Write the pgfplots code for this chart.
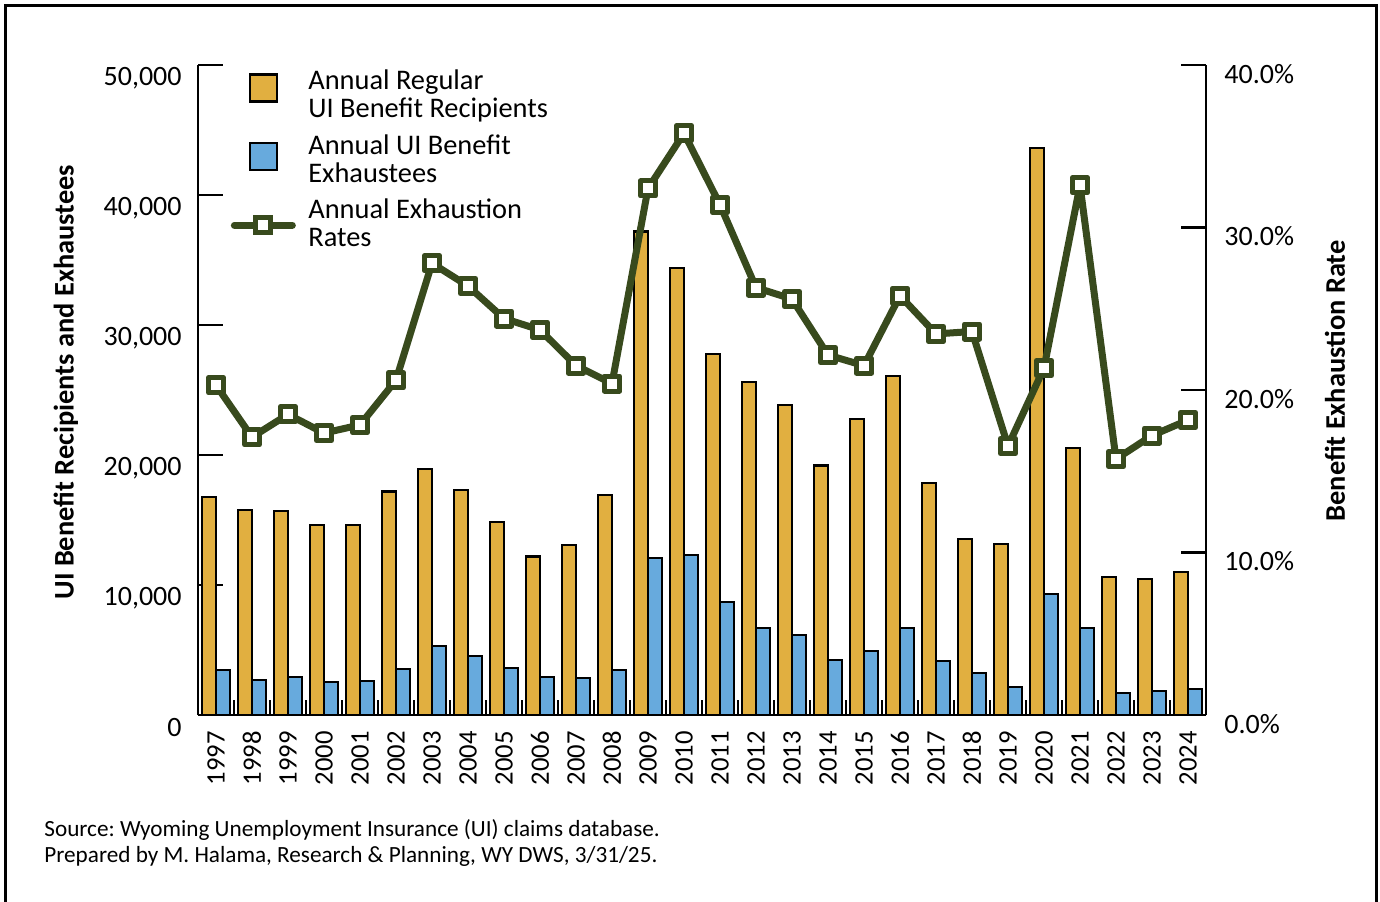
\documentclass[border=0pt]{standalone}
\usepackage{pgfplots}
\usepackage{pgfplotstable}
\pgfplotsset{compat=1.18}
\usepackage{fontspec}
\setmainfont{Carlito}
\frenchspacing
\definecolor{gold}{HTML}{E1AF40}
\definecolor{sky}{HTML}{67AADD}
\definecolor{olive}{HTML}{384A1D}

\pgfplotstableread{
i year rec exh rate
0 1997 16800 3450 20.3
1 1998 15800 2700 17.1
2 1999 15700 2920 18.5
3 2000 14600 2540 17.35
4 2001 14600 2620 17.85
5 2002 17200 3540 20.6
6 2003 18900 5300 27.8
7 2004 17300 4540 26.4
8 2005 14850 3620 24.4
9 2006 12200 2920 23.7
10 2007 13100 2850 21.5
11 2008 16900 3460 20.4
12 2009 37200 12100 32.4
13 2010 34400 12300 35.8
14 2011 27800 8700 31.4
15 2012 25600 6700 26.3
16 2013 23850 6150 25.6
17 2014 19200 4230 22.15
18 2015 22800 4920 21.5
19 2016 26100 6700 25.8
20 2017 17850 4150 23.45
21 2018 13550 3230 23.6
22 2019 13150 2150 16.55
23 2020 43600 9300 21.35
24 2021 20550 6700 32.6
25 2022 10600 1700 15.75
26 2023 10450 1850 17.2
27 2024 11000 2000 18.15
}\data

% separator tick marks between year groups (height in % units of the right axis)
\pgfplotstableread{
x h
0.5 0.92
1.5 0.92
2.5 0.92
3.5 0.92
4.5 0.92
5.5 0.92
6.5 0.92
7.5 0.92
8.5 0.92
9.5 0.92
10.5 0.92
11.5 0.92
12.5 0.92
13.5 0.92
14.5 0.92
15.5 0.92
16.5 0.92
17.5 0.92
18.5 0.92
19.5 0.92
20.5 0.92
21.5 0.92
22.5 0.92
23.5 0.92
24.5 0.92
25.5 0.92
26.5 0.92
}\seps

\pgfplotsset{
  common/.style={
    scale only axis, width=504pt, height=325pt,
    xmin=-0.5, xmax=27.5,
    tick align=inside,
    major tick length=12.5pt,
    axis line style={-, line width=1.25pt, black},
    every tick/.style={line width=1.1pt, black},
    tick label style={font=\fontsize{14}{16}\selectfont},
    /pgf/number format/assume math mode=true,
    label style={font=\bfseries\fontsize{14.2}{16}\selectfont},
  }
}

\begin{document}
\begin{tikzpicture}
\useasboundingbox (-99pt,-93pt) rectangle (591pt,357.5pt);
\draw[line width=1.5pt] (-96pt,-100pt) -- (-96pt,354.5pt) -- (589pt,354.5pt) -- (589pt,-100pt);

\begin{axis}[common,
  ybar=0pt, bar width=7pt,
  ymin=0, ymax=50000, ytick={0,10000,20000,30000,40000,50000},
  scaled y ticks=false,
  yticklabel style={/pgf/number format/1000 sep={,}, inner sep=0pt, yshift=-6.5pt},
  yticklabel shift=8pt,
  axis x line*=bottom, axis y line*=left,
  xtick={0,...,27},
  xticklabels={1997,1998,1999,2000,2001,2002,2003,2004,2005,2006,2007,2008,2009,2010,2011,2012,2013,2014,2015,2016,2017,2018,2019,2020,2021,2022,2023,2024},
  every major x tick/.append style={draw=none},
  xticklabel style={rotate=90, anchor=east, inner sep=0pt, font=\fontsize{13.3}{14}\selectfont},
  xticklabel shift=-4.5pt,
  ylabel={UI Benefit Recipients and Exhaustees},
  ylabel style={at={(axis description cs:-0.131,0.512)}, anchor=center},
  legend cell align=left,
  legend style={draw=none, fill=none, at={(axis description cs:0.0322,1.007)}, anchor=north west,
    inner sep=0pt, /tikz/row sep=3.25pt, /tikz/column sep=6.25pt,
    font=\fontsize{14.2}{14}\selectfont, nodes={inner sep=0pt}},
]
\addplot[fill=gold, draw=black, line width=1.1pt,
  legend image code/.code={\path (0,9.8pt) (0,-18.2pt);
    \draw[fill=gold, draw=black, line width=1.1pt] (-6.75pt,-10pt) rectangle (6.75pt,3.5pt);}]
  table[x=i, y=rec]{\data};
\addlegendentry{\begin{tabular}[t]{@{}l@{}}Annual Regular\\UI Benefit Recipients\end{tabular}}
\addplot[fill=sky, draw=black, line width=1.1pt,
  legend image code/.code={\path (0,9.8pt) (0,-18.2pt);
    \draw[fill=sky, draw=black, line width=1.1pt] (-6.75pt,-12pt) rectangle (6.75pt,1.5pt);}]
  table[x=i, y=exh]{\data};
\addlegendentry{\begin{tabular}[t]{@{}l@{}}Annual UI Benefit\\Exhaustees\end{tabular}}
\addlegendimage{legend image code/.code={\path (0,9.8pt) (0,-18.2pt);
  \draw[olive, line width=3.5pt, line cap=round] (-14.5pt,-7.5pt) -- (14.5pt,-7.5pt);
  \draw[olive, fill=white, line width=2.5pt] (-3.75pt,-11.25pt) rectangle (3.75pt,-3.75pt);}}
\addlegendentry{\begin{tabular}[t]{@{}l@{}}Annual Exhaustion\\Rates\end{tabular}}
\end{axis}

\begin{axis}[common,
  axis y line*=right, axis x line=none,
  ymin=0, ymax=40, ytick={0,10,20,30,40},
  yticklabel={\pgfmathprintnumber[fixed,fixed zerofill,precision=1]{\tick}\%},
  yticklabel style={inner sep=0pt, yshift=-4.5pt},
  yticklabel shift=9pt,
  ylabel={Benefit Exhaustion Rate},
  ylabel style={at={(axis description cs:1.128,0.514)}, anchor=center},
  clip=false,
]
\addplot[ycomb, black, line width=1.4pt, no marks, forget plot] table[x=x, y=h]{\seps};
\addplot[olive, line width=3.5pt, line join=round, mark=square*, mark size=3.75pt,
  mark options={fill=white, draw=olive, line width=2.5pt, solid}]
  table[x=i, y=rate]{\data};
\end{axis}

\node[anchor=base west, inner sep=0pt, font=\fontsize{11.6}{13}\selectfont] at (-77pt,-60.5pt) {Source: Wyoming Unemployment Insurance (UI) claims database.};
\node[anchor=base west, inner sep=0pt, font=\fontsize{11.6}{13}\selectfont] at (-77pt,-73.5pt) {Prepared by M. Halama, Research \& Planning, WY DWS, 3/31/25.};
\end{tikzpicture}
\end{document}
